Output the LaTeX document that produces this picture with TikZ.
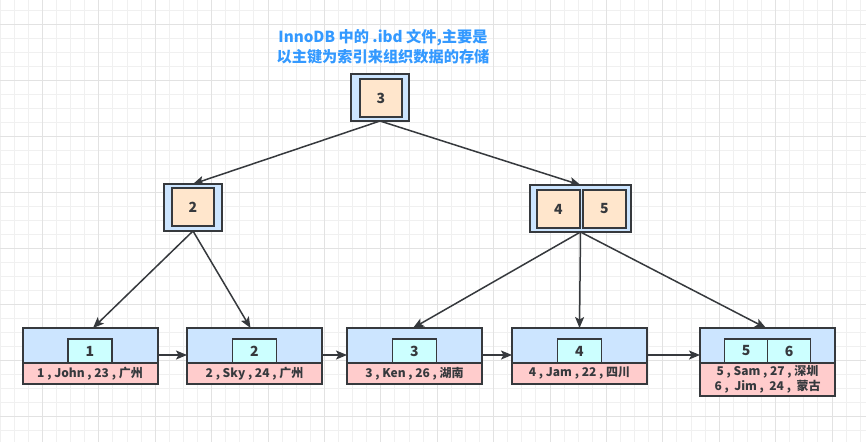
\documentclass[tikz,border=0pt]{standalone}
\usepackage{fontspec}
\setmainfont{Noto Sans CJK SC}
\usepackage{tikz}
\usetikzlibrary{arrows.meta, positioning}
\usepackage{xcolor}
\definecolor{mEdge}{HTML}{36393D}
\definecolor{mBlue}{HTML}{CCE5FF}
\definecolor{mPeach}{HTML}{FFE6CC}
\definecolor{mCyan}{HTML}{CCFFFF}
\definecolor{mPink}{HTML}{FFCCCC}
\definecolor{mTitle}{HTML}{3399FF}
\definecolor{mGridMinor}{HTML}{F0F0F0}
\definecolor{mGridMajor}{HTML}{E2E2E2}

\begin{document}
\begin{tikzpicture}[x=1pt, y=-1pt,
  gridminor/.style={draw=mGridMinor, line width=0.8pt},
  gridmajor/.style={draw=mGridMajor, line width=0.8pt},
  title/.style={text=mTitle, align=center, font=\fontsize{15.2}{20}\selectfont\bfseries},
  outer/.style={draw=mEdge, line width=2pt, fill=mBlue, inner sep=0pt, outer sep=0pt,
                minimum width=#1, minimum height=47pt},
  keybox/.style={draw=mEdge, line width=1.8pt, fill=#1, inner sep=0pt, outer sep=0pt,
                 text=mEdge, font=\fontsize{14}{14}\selectfont\bfseries},
  treekey/.style={keybox=mPeach, minimum width=#1, minimum height=38pt},
  treekey/.default=42pt,
  leafkey/.style={keybox=mCyan, minimum width=#1, minimum height=24pt},
  leafkey/.default=44pt,
  leaftop/.style={draw=mEdge, line width=2pt, fill=mBlue, inner sep=0pt, outer sep=0pt,
                  minimum width=135pt, minimum height=35pt},
  leafrow/.style={draw=mEdge, line width=2pt, fill=mPink, inner sep=0pt, outer sep=0pt,
                  minimum width=135pt, minimum height=21pt, align=center, text=mEdge,
                  font=\fontsize{12}{14.5}\selectfont\bfseries},
  arr/.style={-{Stealth[length=11pt, width=9pt, inset=2.5pt]}, line width=1.5pt, draw=mEdge}]
  \useasboundingbox (0,0) rectangle (866,442);
  % background grid
  \fill[white] (0,0) rectangle (866,442);
  \foreach \i in {0,...,61} \draw[gridminor] (14.1*\i,0) -- (14.1*\i,442);
  \foreach \j in {0,...,31} \draw[gridminor] (0,10+14*\j) -- (866,10+14*\j);
  \foreach \i in {0,...,15} \draw[gridmajor] (42.3+56.4*\i,0) -- (42.3+56.4*\i,442);
  \foreach \j in {0,...,7} \draw[gridmajor] (0,24+56*\j) -- (866,24+56*\j);
  % title
  \node[title] (title) at (383,47) {InnoDB 中的 .ibd 文件,主要是\\以主键为索引来组织数据的存储};
  % root and inner nodes
  \node[outer=58pt] (root) at (380,97.5) {};
  \node[treekey] (k3) at (381,98) {3};
  \node[outer=58pt] (n2) at (193,207.5) {};
  \node[treekey] (k2) at (193,207) {2};
  \node[outer=101pt] (n45) at (580.5,208.5) {};
  \node[treekey=43pt] (k4) at (558.5,209) {4};
  \node[treekey=43pt] (k5) at (604.5,209) {5};
  % leaves
  \foreach \n/\x/\txt in {1/90/{1 , John , 23 , 广州}, 2/254.5/{2 , Sky , 24 , 广州},
                          3/414.5/{3 , Ken , 26 , 湖南}, 4/579.5/{4 , Jam , 22 , 四川}} {
    \node[leaftop] (leaf\n) at (\x,345.5) {};
    \node[leafkey, anchor=south] (key\n) at (leaf\n.south) {\n};
    \node[leafrow, below=0pt of leaf\n] (row\n) {\txt};
  }
  \node[leaftop] (leaf5) at (767.5,345.5) {};
  \node[leafkey=43pt, anchor=south east] (key5) at (leaf5.south) {5};
  \node[leafkey=43pt, anchor=south west] (key6) at (leaf5.south) {6};
  \node[leafrow, below=0pt of leaf5, minimum height=33pt] (row5)
    {5 , Sam , 27 , 深圳\\6 ,\ \ Jim ,\ \ 24 ,\ \ 蒙古};
  % arrows
  \draw[arr] (root.south) -- (n2.north);
  \draw[arr] (root.south) -- (n45.north);
  \draw[arr] (n2.south) -- ([xshift=3pt]leaf1.north);
  \draw[arr] (n2.south) -- ([xshift=-4pt]leaf2.north);
  \draw[arr] (n45.south) -- ([xshift=-1.5pt]leaf3.north);
  \draw[arr] (n45.south) -- (leaf4.north);
  \draw[arr] (n45.south) -- ([xshift=-1.5pt]leaf5.north);
  \foreach \a/\b in {1/2, 2/3, 3/4, 4/5}
    \draw[arr] ([yshift=-9.5pt]leaf\a.east) -- ([yshift=-9.5pt]leaf\b.west);
\end{tikzpicture}
\end{document}
